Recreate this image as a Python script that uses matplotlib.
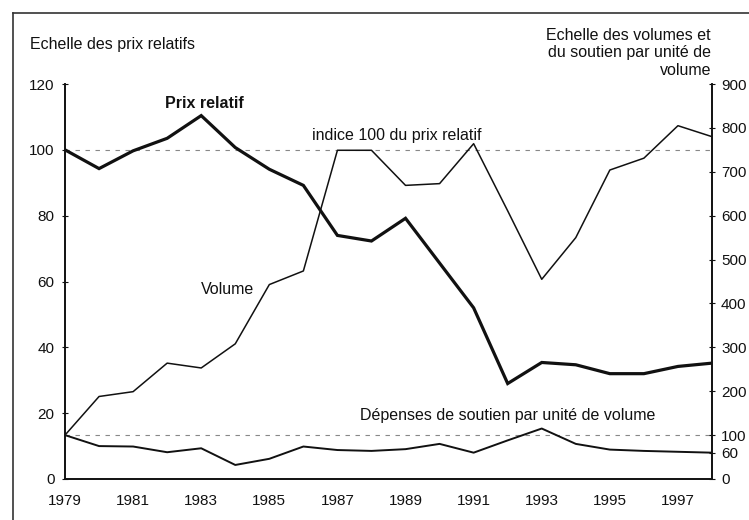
"""Prix relatif, volume et dépenses de soutien par unité de volume, 1979-1998."""

import matplotlib.pyplot as plt
from matplotlib.lines import Line2D

plt.rcParams.update(
    {
        "font.family": ["Liberation Sans", "DejaVu Sans"],
        "font.size": 11.5,
        "xtick.labelsize": 11,
        "ytick.labelsize": 11,
    }
)

years = list(range(1979, 1999))

# left scale: relative price (index)
prix_relatif = [100, 94.3, 99.7, 103.5, 110.4, 100.7, 94.1, 89.2, 74.0, 72.3,
                79.2, 65.6, 52.0, 29.0, 35.4, 34.7, 32.0, 32.0, 34.2, 35.2]

# right scale: volume and support per unit of volume (1979 = 100)
volume = [100, 188, 199, 264, 253, 308, 443, 474, 749, 749,
          669, 673, 764, 611, 455, 550, 704, 731, 805, 780]
soutien = [100, 75, 74, 61, 70, 32, 46, 74, 66, 64,
           68, 80, 60, 88, 115, 80, 67, 64, 62, 60]

left_ticks = [0, 20, 40, 60, 80, 100, 120]
right_ticks = [0, 60, 100, 200, 300, 400, 500, 600, 700, 800, 900]
year_ticks = list(range(1979, 1998, 2))

INK = "#111111"

fig = plt.figure(figsize=(7.49, 5.20), dpi=100)
ax = fig.add_axes([65 / 749, 41 / 520, 647 / 749, 395 / 520])
ax2 = ax.twinx()

# reference lines: index 100 on each scale
ax.axhline(100, color="#888888", linewidth=0.8, linestyle=(0, (4, 5)), zorder=1)
ax2.axhline(100, color="#888888", linewidth=0.8, linestyle=(0, (4, 5)), zorder=1)

ax.plot(years, prix_relatif, color=INK, linewidth=2.3, solid_joinstyle="miter", zorder=3)
ax2.plot(years, volume, color=INK, linewidth=1.1, zorder=3)
ax2.plot(years, soutien, color=INK, linewidth=1.4, zorder=3)

ax.set_xlim(1979, 1998)
ax.set_ylim(0, 120)
ax2.set_ylim(0, 900)
ax.set_xticks(year_ticks)
ax.set_yticks(left_ticks)
ax2.set_yticks(right_ticks)

for a in (ax, ax2):
    a.spines["top"].set_visible(False)
    for s in ("left", "right", "bottom"):
        a.spines[s].set_color(INK)
        a.spines[s].set_linewidth(1.2)
ax.tick_params(axis="y", direction="inout", length=5, width=0.8, pad=5, colors=INK)
ax2.tick_params(axis="y", direction="inout", length=5, width=0.8, pad=4, colors=INK)
ax.tick_params(axis="x", length=0, pad=11, colors=INK)

# annotations
ax.text(1983.1, 114.2, "Prix relatif", fontweight="bold", ha="center", va="center", color=INK)
ax.text(1986.25, 104.5, "indice 100 du prix relatif", ha="left", va="center", color=INK)
ax.text(1983.0, 57.7, "Volume", ha="left", va="center", color=INK)
ax.text(1987.66, 19.4, "Dépenses de soutien par unité de volume", ha="left", va="center", color=INK)

fig.text(30 / 749, 1 - 44 / 520, "Echelle des prix relatifs", ha="left", va="center", color=INK)
fig.text(711 / 749, 1 - 53 / 520,
         "Echelle des volumes et\ndu soutien par unité de\nvolume",
         ha="right", va="center", multialignment="right", linespacing=1.2, color=INK)

# outer frame (runs off the right and bottom of the picture)
fig.add_artist(Line2D([13 / 749, 13 / 749], [0, 1 - 13 / 520], color="#333333", linewidth=1.2))
fig.add_artist(Line2D([13 / 749, 1], [1 - 13 / 520, 1 - 13 / 520], color="#333333", linewidth=1.2))

fig.savefig("out.png", dpi=100)
